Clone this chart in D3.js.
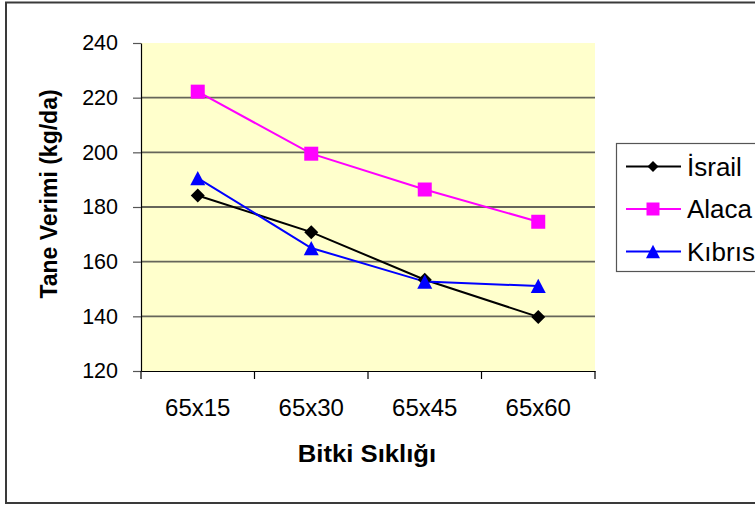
<!DOCTYPE html>
<html>
<head>
<meta charset="utf-8">
<script src="https://cdn.jsdelivr.net/npm/d3@7/dist/d3.min.js"></script>
<style>
  html, body { margin: 0; padding: 0; background: #fff; }
  svg { display: block; }
  text { font-family: "Liberation Sans", Arial, sans-serif; fill: #000; }
</style>
</head>
<body>
<svg id="chart" width="755" height="506"></svg>
<script>
// Plant density treatments (x axis)
const categories = ["65x15", "65x30", "65x45", "65x60"];

// Grain yield (kg/da) per variety
const israil = [184.2, 170.8, 153.4, 139.8];
const alaca  = [222.2, 199.5, 186.4, 174.6];
const kibris = [190.6, 165.0, 152.7, 151.1];

const seriesNames = ["İsrail", "Alaca", "Kıbrıs"];
const yTicks = [120, 140, 160, 180, 200, 220, 240];

// Marker shapes sized by their bounding box width (px), centred on the point
const diamond = {
  draw(ctx, w) { const r = w / 2; ctx.moveTo(0, -r); ctx.lineTo(r, 0); ctx.lineTo(0, r); ctx.lineTo(-r, 0); ctx.closePath(); }
};
const square = {
  draw(ctx, w) { const r = w / 2; ctx.rect(-r, -r, w, w); }
};
const triangle = {
  draw(ctx, w) { const h = w * 0.95, r = w / 2; ctx.moveTo(0, -h / 2); ctx.lineTo(r, h / 2); ctx.lineTo(-r, h / 2); ctx.closePath(); }
};

const series = [
  { name: seriesNames[0], values: israil, color: "#000000", symbol: diamond,  size: 14, legSize: 11 },
  { name: seriesNames[1], values: alaca,  color: "#FF00FF", symbol: square,   size: 14, legSize: 13 },
  { name: seriesNames[2], values: kibris, color: "#0000FF", symbol: triangle, size: 15, legSize: 14 }
];

const svg = d3.select("#chart");

// outer chart frame
svg.append("rect")
  .attr("x", 6).attr("y", 2.5)
  .attr("width", 780).attr("height", 500.5)
  .attr("fill", "#fff").attr("stroke", "#3a3a3a").attr("stroke-width", 2);

const plot = { left: 141, right: 595, top: 43, bottom: 371 };

const x = d3.scaleBand().domain(categories).range([plot.left, plot.right]);
const y = d3.scaleLinear().domain([120, 240]).range([plot.bottom, plot.top]);
const cx = c => x(c) + x.bandwidth() / 2;

// plot background
svg.append("rect")
  .attr("x", plot.left).attr("y", plot.top)
  .attr("width", plot.right - plot.left).attr("height", plot.bottom - plot.top)
  .attr("fill", "#FFFFCC");

// horizontal gridlines
svg.append("g").selectAll("line")
  .data(yTicks.filter(t => t > 120 && t < 240))
  .join("line")
  .attr("x1", plot.left).attr("x2", plot.right)
  .attr("y1", d => y(d)).attr("y2", d => y(d))
  .attr("stroke", "#66665a").attr("stroke-width", 1.8);

// y axis
const yAxis = svg.append("g")
  .attr("transform", `translate(${plot.left},0)`)
  .call(d3.axisLeft(y).tickValues(yTicks).tickSize(8).tickPadding(15).tickSizeOuter(0));
yAxis.select(".domain").attr("stroke", "#000").attr("stroke-width", 1.2);
yAxis.selectAll(".tick line").attr("stroke", "#555").attr("stroke-width", 1.2);
yAxis.selectAll(".tick text")
  .style("font-family", "'Liberation Sans', Arial, sans-serif")
  .style("font-size", "21.5px").attr("fill", "#000");

// x axis: labels centred in each category, tick marks between categories
const xAxis = svg.append("g")
  .attr("transform", `translate(0,${plot.bottom})`)
  .call(d3.axisBottom(x).tickSize(0).tickPadding(28).tickSizeOuter(0));
xAxis.select(".domain").attr("stroke", "#000").attr("stroke-width", 1.2);
xAxis.selectAll(".tick text")
  .style("font-family", "'Liberation Sans', Arial, sans-serif")
  .style("font-size", "24px").attr("fill", "#000");

const boundaries = categories.map(c => x(c)).concat([x(categories[categories.length - 1]) + x.bandwidth()]);
svg.append("g").selectAll("line")
  .data(boundaries)
  .join("line")
  .attr("x1", d => d).attr("x2", d => d)
  .attr("y1", plot.bottom).attr("y2", plot.bottom + 8)
  .attr("stroke", "#000").attr("stroke-width", 1.2);

// series lines and markers
const line = d3.line()
  .x((d, i) => cx(categories[i]))
  .y(d => y(d));

series.forEach(s => {
  svg.append("path")
    .datum(s.values)
    .attr("d", line)
    .attr("fill", "none")
    .attr("stroke", s.color)
    .attr("stroke-width", 2);
});

series.forEach(s => {
  const sym = d3.symbol().type(s.symbol).size(s.size);
  svg.append("g").selectAll("path")
    .data(s.values)
    .join("path")
    .attr("transform", (d, i) => `translate(${cx(categories[i])},${y(d)})`)
    .attr("d", sym)
    .attr("fill", s.color)
    .attr("stroke", "none");
});

// axis titles
svg.append("text")
  .attr("transform", "translate(56.5,194) rotate(-90)")
  .attr("text-anchor", "middle")
  .style("font-size", "23px").style("font-weight", "bold")
  .text("Tane Verimi (kg/da)");

svg.append("text")
  .attr("transform", "translate(367,462) scale(1.07,1)")
  .attr("text-anchor", "middle")
  .style("font-size", "24px").style("font-weight", "bold")
  .text("Bitki Sıklığı");

// legend
const legend = svg.append("g");
legend.append("rect")
  .attr("x", 616.5).attr("y", 143.5)
  .attr("width", 160).attr("height", 128)
  .attr("fill", "#fff").attr("stroke", "#555").attr("stroke-width", 1.2);

const legY = d3.scalePoint().domain(seriesNames).range([166.5, 251.5]);
series.forEach(s => {
  const ly = legY(s.name);
  legend.append("line")
    .attr("x1", 626).attr("x2", 681)
    .attr("y1", ly).attr("y2", ly)
    .attr("stroke", s.color).attr("stroke-width", 2);
  legend.append("path")
    .attr("transform", `translate(653,${ly})`)
    .attr("d", d3.symbol().type(s.symbol).size(s.legSize))
    .attr("fill", s.color);
  legend.append("text")
    .attr("x", 687).attr("y", ly + 9)
    .style("font-size", "26px")
    .text(s.name);
});
</script>
</body>
</html>
